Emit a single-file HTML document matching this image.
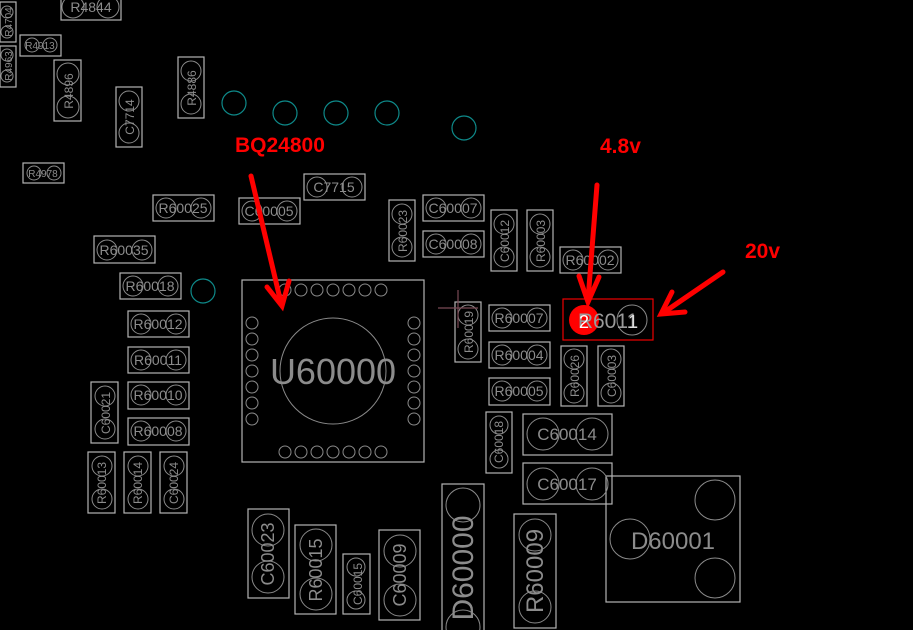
<!DOCTYPE html>
<html><head><meta charset="utf-8"><style>
html,body{margin:0;padding:0;background:#000;width:913px;height:630px;overflow:hidden}
svg{display:block}
text{font-family:"Liberation Sans",sans-serif}
</style></head><body>
<svg width="913" height="630" viewBox="0 0 913 630" xmlns="http://www.w3.org/2000/svg">
<g fill="none" stroke="#b4b4b4" stroke-width="1.2">
<rect x="61" y="-2" width="60" height="22"/><rect x="20" y="35" width="41" height="21"/><rect x="23" y="163" width="41" height="20"/>
<rect x="153" y="195" width="61" height="26"/><rect x="239" y="198" width="61" height="26"/><rect x="94" y="236" width="61" height="27"/>
<rect x="120" y="273" width="61" height="26"/><rect x="304" y="174" width="61" height="26"/><rect x="423" y="195" width="61" height="26"/>
<rect x="423" y="231" width="61" height="26"/><rect x="560" y="247" width="61" height="26"/><rect x="128" y="311" width="61" height="26"/>
<rect x="128" y="347" width="61" height="26"/><rect x="128" y="382" width="61" height="27"/><rect x="128" y="418" width="61" height="27"/>
<rect x="489" y="305" width="61" height="26"/><rect x="489" y="342" width="61" height="26"/><rect x="489" y="378" width="61" height="27"/>
<rect x="523" y="414" width="89" height="41"/><rect x="523" y="463" width="89" height="41"/><rect x="606" y="476" width="134" height="126"/>
<rect x="0" y="2" width="16" height="40"/><rect x="0" y="46" width="16" height="41"/><rect x="54" y="60" width="27" height="61"/>
<rect x="116" y="87" width="26" height="60"/><rect x="178" y="57" width="26" height="61"/><rect x="389" y="200" width="26" height="61"/>
<rect x="491" y="210" width="26" height="61"/><rect x="527" y="210" width="26" height="61"/><rect x="455" y="302" width="26" height="60"/>
<rect x="561" y="346" width="26" height="60"/><rect x="598" y="346" width="26" height="60"/><rect x="91" y="382" width="27" height="61"/>
<rect x="88" y="452" width="27" height="61"/><rect x="124" y="452" width="27" height="61"/><rect x="160" y="452" width="27" height="61"/>
<rect x="486" y="412" width="26" height="61"/><rect x="248" y="509" width="41" height="89"/><rect x="295" y="525" width="41" height="89"/>
<rect x="343" y="554" width="27" height="60"/><rect x="379" y="530" width="41" height="90"/><rect x="442" y="484" width="42" height="150"/>
<rect x="514" y="514" width="42" height="114"/>
<rect x="242" y="280" width="182" height="182"/>
</g>
<g fill="none" stroke="#8a8a8a" stroke-width="1">
<circle cx="73" cy="7" r="11"/><circle cx="108" cy="7" r="11"/><circle cx="32" cy="45" r="7"/><circle cx="50" cy="45" r="7"/>
<circle cx="34" cy="173" r="7"/><circle cx="54" cy="173" r="7"/>
<circle cx="166" cy="208" r="10"/><circle cx="201" cy="208" r="10"/><circle cx="252" cy="211" r="10"/><circle cx="287" cy="211" r="10"/>
<circle cx="107" cy="250" r="10"/><circle cx="142" cy="250" r="10"/><circle cx="133" cy="286" r="10"/><circle cx="168" cy="286" r="10"/>
<circle cx="317" cy="187" r="10"/><circle cx="352" cy="187" r="10"/><circle cx="436" cy="208" r="10"/><circle cx="471" cy="208" r="10"/>
<circle cx="436" cy="244" r="10"/><circle cx="471" cy="244" r="10"/><circle cx="573" cy="260" r="10"/><circle cx="608" cy="260" r="10"/>
<circle cx="141" cy="324" r="10"/><circle cx="176" cy="324" r="10"/><circle cx="141" cy="360" r="10"/><circle cx="176" cy="360" r="10"/>
<circle cx="141" cy="395" r="10"/><circle cx="176" cy="395" r="10"/><circle cx="141" cy="431" r="10"/><circle cx="176" cy="431" r="10"/>
<circle cx="502" cy="318" r="10"/><circle cx="537" cy="318" r="10"/><circle cx="502" cy="355" r="10"/><circle cx="537" cy="355" r="10"/>
<circle cx="502" cy="391" r="10"/><circle cx="537" cy="391" r="10"/>
<circle cx="543" cy="434" r="16"/><circle cx="592" cy="434" r="16"/><circle cx="543" cy="484" r="16"/><circle cx="592" cy="484" r="16"/>
<circle cx="630" cy="539" r="20"/><circle cx="715" cy="500" r="20"/><circle cx="715" cy="578" r="20"/>
<circle cx="632" cy="320" r="15"/>
<circle cx="7" cy="12" r="6"/><circle cx="7" cy="32" r="6"/><circle cx="7" cy="55" r="6"/><circle cx="7" cy="76" r="6"/>
<circle cx="68" cy="74" r="11"/><circle cx="68" cy="107" r="11"/><circle cx="129" cy="101" r="10"/><circle cx="129" cy="133" r="10"/>
<circle cx="191" cy="71" r="10"/><circle cx="191" cy="104" r="10"/><circle cx="402" cy="214" r="10"/><circle cx="402" cy="247" r="10"/>
<circle cx="504" cy="224" r="10"/><circle cx="504" cy="257" r="10"/><circle cx="540" cy="224" r="10"/><circle cx="540" cy="257" r="10"/>
<circle cx="468" cy="315" r="10"/><circle cx="468" cy="349" r="10"/><circle cx="574" cy="359" r="10"/><circle cx="574" cy="393" r="10"/>
<circle cx="611" cy="359" r="10"/><circle cx="611" cy="393" r="10"/><circle cx="105" cy="396" r="10"/><circle cx="105" cy="429" r="10"/>
<circle cx="102" cy="466" r="10"/><circle cx="102" cy="499" r="10"/><circle cx="138" cy="466" r="10"/><circle cx="138" cy="499" r="10"/>
<circle cx="174" cy="466" r="10"/><circle cx="174" cy="499" r="10"/><circle cx="499" cy="425" r="9"/><circle cx="499" cy="459" r="9"/>
<circle cx="268" cy="530" r="16"/><circle cx="268" cy="577" r="16"/><circle cx="316" cy="545" r="16"/><circle cx="316" cy="594" r="16"/>
<circle cx="356" cy="567" r="9"/><circle cx="356" cy="600" r="9"/><circle cx="400" cy="551" r="16"/><circle cx="400" cy="600" r="16"/>
<circle cx="463" cy="505" r="17"/><circle cx="463" cy="627" r="17"/><circle cx="535" cy="535" r="16"/><circle cx="535" cy="607" r="16"/>
<circle cx="333" cy="371" r="53"/>
<g id="tp"><circle cx="285" cy="290" r="6"/><circle cx="301" cy="290" r="6"/><circle cx="317" cy="290" r="6"/><circle cx="333" cy="290" r="6"/><circle cx="349" cy="290" r="6"/><circle cx="365" cy="290" r="6"/><circle cx="381" cy="290" r="6"/></g>
<use href="#tp" y="162"/>
<circle cx="252" cy="323" r="6"/><circle cx="252" cy="339" r="6"/><circle cx="252" cy="355" r="6"/><circle cx="252" cy="371" r="6"/><circle cx="252" cy="387" r="6"/><circle cx="252" cy="403" r="6"/><circle cx="252" cy="419" r="6"/>
<circle cx="414" cy="323" r="6"/><circle cx="414" cy="339" r="6"/><circle cx="414" cy="355" r="6"/><circle cx="414" cy="371" r="6"/><circle cx="414" cy="387" r="6"/><circle cx="414" cy="403" r="6"/><circle cx="414" cy="419" r="6"/>
</g>
<g fill="none" stroke="#0e8a8a" stroke-width="1.2">
<circle cx="234" cy="103" r="12"/><circle cx="285" cy="113" r="12"/><circle cx="336" cy="113" r="12"/><circle cx="387" cy="113" r="12"/><circle cx="464" cy="128" r="12"/><circle cx="203" cy="291" r="12"/>
</g>
<g stroke="#7a4a55" stroke-width="1.2"><line x1="438" y1="308" x2="478" y2="308"/><line x1="458" y1="290" x2="458" y2="328"/></g>
<rect x="563" y="299" width="90" height="41" fill="none" stroke="#e00" stroke-width="1.2"/>
<circle cx="584" cy="320" r="15" fill="#f00"/>
<g fill="#8c8c8c" text-anchor="middle" font-size="14">
<text x="91" y="12">R4844</text><text x="40" y="49" font-size="10">R4913</text><text x="43" y="177" font-size="10">R4978</text>
<text x="183" y="213">R60025</text><text x="269" y="216">C60005</text><text x="124" y="255">R60035</text><text x="150" y="291">R60018</text>
<text x="334" y="192">C7715</text><text x="453" y="213">C60007</text><text x="453" y="249">C60008</text><text x="590" y="265">R60002</text>
<text x="158" y="329">R60012</text><text x="158" y="365">R60011</text><text x="158" y="400">R60010</text><text x="158" y="436">R60008</text>
<text x="519" y="323">R60007</text><text x="519" y="360">R60004</text><text x="519" y="396">R60005</text>
<text x="567" y="440" font-size="17">C60014</text><text x="567" y="490" font-size="17">C60017</text>
<text x="673" y="549" font-size="24">D60001</text>
<text x="333" y="384" font-size="36">U60000</text>
<text x="608" y="328" font-size="21" fill="#9a9a9a">R6011</text>
<text x="584" y="328" font-size="18" fill="#fff">2</text><text x="633" y="328" font-size="18" fill="#ddd">1</text>
<g font-size="12">
<text transform="translate(12,22) rotate(-90)" font-size="10">R4704</text><text transform="translate(12,66) rotate(-90)" font-size="10">R4963</text>
<text transform="translate(73,91) rotate(-90)">R4896</text><text transform="translate(134,117) rotate(-90)">C7714</text>
<text transform="translate(196,88) rotate(-90)">R4886</text><text transform="translate(407,231) rotate(-90)">R60023</text>
<text transform="translate(509,241) rotate(-90)">C60012</text><text transform="translate(545,241) rotate(-90)">R60003</text>
<text transform="translate(473,332) rotate(-90)">R60019</text><text transform="translate(579,376) rotate(-90)">R60026</text>
<text transform="translate(616,376) rotate(-90)">C60003</text><text transform="translate(110,413) rotate(-90)">C60021</text>
<text transform="translate(106,483) rotate(-90)">R60013</text><text transform="translate(142,483) rotate(-90)">R60014</text>
<text transform="translate(178,483) rotate(-90)">C60024</text><text transform="translate(503,442) rotate(-90)">C60018</text>
<text transform="translate(362,584) rotate(-90)">C60015</text>
</g>
<text transform="translate(274,554) rotate(-90)" font-size="18">C60023</text>
<text transform="translate(322,570) rotate(-90)" font-size="18">R60015</text>
<text transform="translate(406,575) rotate(-90)" font-size="18">C60009</text>
<text transform="translate(473,568) rotate(-90)" font-size="30">D60000</text>
<text transform="translate(543,571) rotate(-90)" font-size="24">R60009</text>
</g>
<g fill="#f00" font-weight="bold" font-size="21">
<text x="235" y="152">BQ24800</text><text x="600" y="153">4.8v</text><text x="745" y="258">20v</text>
</g>
<g stroke="#f00" stroke-width="5" stroke-linecap="round" fill="none">
<line x1="251" y1="176" x2="281" y2="303"/><polyline points="267,287 282,306 289,281"/>
<line x1="597" y1="185" x2="588" y2="300"/><polyline points="579,276 588,302 599,277"/>
<line x1="723" y1="272" x2="663" y2="313"/><polyline points="672,292 661,314 685,312"/>
</g>
</svg>
</body></html>
